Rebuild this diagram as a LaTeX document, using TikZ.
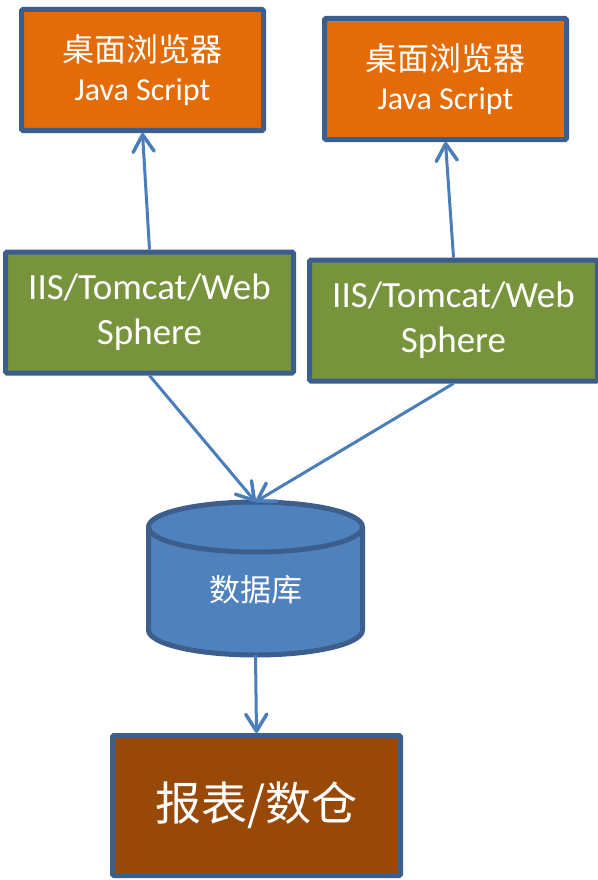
\documentclass[tikz,border=0pt]{standalone}
\usepackage{fontspec}
\setmainfont{Carlito}
\newfontfamily\cjk{Noto Sans CJK SC}
\usetikzlibrary{arrows.meta}
\definecolor{bordc}{HTML}{3B5E8C}
\definecolor{arrc}{HTML}{4A7EBB}
\definecolor{orangec}{HTML}{E36C09}
\definecolor{greenc}{HTML}{77933C}
\definecolor{bluec}{HTML}{4F81BD}
\definecolor{brownc}{HTML}{984807}
\tikzset{
  box/.style={draw=bordc, line width=5pt, rounded corners=1.5pt, text=white, align=center, inner sep=0pt},
  browser/.style={box, fill=orangec, minimum width=242pt, minimum height=121pt, font=\fontsize{32}{40}\selectfont},
  server/.style={box, fill=greenc, minimum width=288pt, minimum height=121pt, font=\fontsize{37}{45}\selectfont},
  report/.style={box, fill=brownc, minimum width=288pt, minimum height=140pt, font=\cjk\fontsize{46}{50}\selectfont},
  conn/.style={draw=arrc, line width=3pt, -{Straight Barb[length=17pt,width=21pt,line width=3.5pt,round]}},
}
\begin{document}
\begin{tikzpicture}[x=1pt,y=-1pt]
\useasboundingbox (0,0) rectangle (597,880);
\node[browser] (b1) at (142.5,70) {{\cjk 桌面浏览器}\\[-1pt]Java Script};
\node[browser] (b2) at (445.5,79) {{\cjk 桌面浏览器}\\[-1pt]Java Script};
\node[server] (s1) at (149.5,312.5) {IIS/Tomcat/Web\\Sphere};
\node[server] (s2) at (453.5,320.5) {IIS/Tomcat/Web\\Sphere};
% database cylinder
\filldraw[fill=bluec, draw=bordc, line width=5pt]
  (148.5,527) -- (148.5,630) arc[start angle=180,end angle=0,x radius=107,y radius=25]
  -- (362.5,527) arc[start angle=0,end angle=-180,x radius=107,y radius=25] -- cycle;
\draw[draw=bordc, line width=5pt] (148.5,527) arc[start angle=180,end angle=0,x radius=107,y radius=25];
\node[minimum width=214pt, minimum height=153pt, inner sep=0pt] (db) at (255.5,578.5) {};
\node[text=white, font=\cjk\fontsize{31}{36}\selectfont] (dbl) at (255.5,590) {数据库};
\node[report] (r) at (256.5,805.5) {报表/数仓};
\draw[conn] (s1.north) -- (b1.south);
\draw[conn] (s2.north) -- (b2.south);
\draw[conn] (s1.south) -- (db.north);
\draw[conn] (s2.south) -- (db.north);
\draw[conn] (db.south) -- (r.north);
\end{tikzpicture}
\end{document}
